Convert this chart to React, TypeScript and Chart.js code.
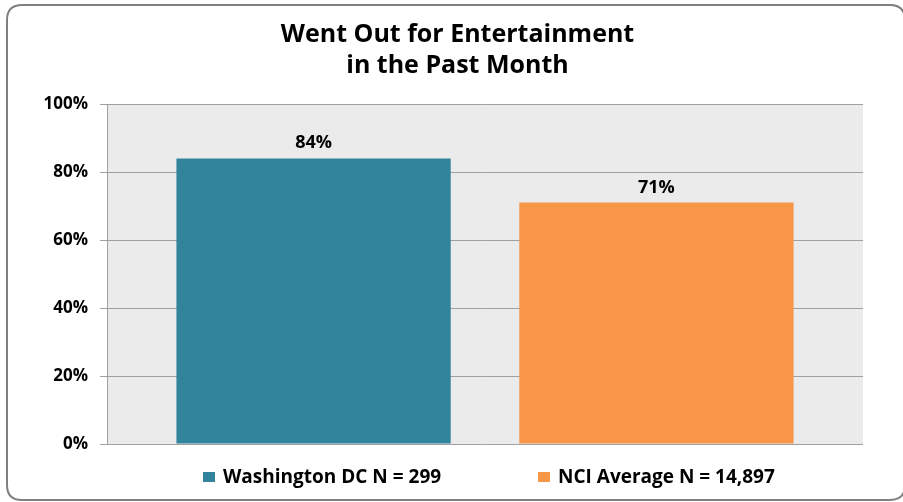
import React, { useEffect, useRef } from "react";
import { Chart, registerables } from "chart.js";

Chart.register(...registerables);

const titleLines = ["Went Out for Entertainment", "in the Past Month"];
const categories = [""];
const seriesNames = ["Washington DC N = 299", "NCI Average N = 14,897"];
const seriesValues = [[84], [71]];
const seriesColors = ["#31849B", "#F79646"];
const yTicks = [0, 20, 40, 60, 80, 100];

const FONT = "'Open Sans', 'DejaVu Sans', sans-serif";
const LEGEND_X = [203, 538];

const decorPlugin = {
  id: "decor",
  beforeDraw(chart: any) {
    const { ctx, chartArea } = chart;
    ctx.save();
    ctx.fillStyle = "#ffffff";
    ctx.fillRect(0, 0, chart.width, chart.height);
    ctx.fillStyle = "#EBEBEB";
    ctx.fillRect(chartArea.left, chartArea.top, chartArea.right - chartArea.left, chartArea.bottom - chartArea.top);
    // rounded border
    const x0 = 7, y0 = 5, x1 = 905, y1 = 500, r = 15;
    ctx.strokeStyle = "#808080";
    ctx.lineWidth = 2;
    ctx.beginPath();
    ctx.moveTo(x0 + r, y0);
    ctx.lineTo(x1 - r, y0);
    ctx.quadraticCurveTo(x1, y0, x1, y0 + r);
    ctx.lineTo(x1, y1 - r);
    ctx.quadraticCurveTo(x1, y1, x1 - r, y1);
    ctx.lineTo(x0 + r, y1);
    ctx.quadraticCurveTo(x0, y1, x0, y1 - r);
    ctx.lineTo(x0, y0 + r);
    ctx.quadraticCurveTo(x0, y0, x0 + r, y0);
    ctx.closePath();
    ctx.stroke();
    ctx.restore();
  },
  afterDraw(chart: any) {
    const { ctx } = chart;
    ctx.save();
    // title
    ctx.fillStyle = "#000000";
    ctx.textAlign = "center";
    ctx.textBaseline = "alphabetic";
    ctx.font = `bold 25px ${FONT}`;
    titleLines.forEach((line, i) => {
      ctx.fillText(line, 457.5, 42 + i * 31);
    });
    // legend
    ctx.font = `bold 19px ${FONT}`;
    const boxW = 12, boxH = 10, gapText = 8;
    const cy = 477;
    ctx.textAlign = "left";
    ctx.textBaseline = "middle";
    chart.data.datasets.forEach((d: any, i: number) => {
      const x = LEGEND_X[i];
      ctx.fillStyle = d.backgroundColor;
      ctx.fillRect(x, cy - boxH / 2, boxW, boxH);
      ctx.fillStyle = "#000000";
      ctx.fillText(d.label, x + boxW + gapText, cy + 1);
    });
    ctx.restore();
  },
  afterDatasetsDraw(chart: any) {
    const { ctx } = chart;
    ctx.save();
    ctx.fillStyle = "#000000";
    ctx.font = `bold 18px ${FONT}`;
    ctx.textAlign = "center";
    ctx.textBaseline = "alphabetic";
    chart.data.datasets.forEach((d: any, di: number) => {
      const meta = chart.getDatasetMeta(di);
      meta.data.forEach((el: any, i: number) => {
        ctx.fillText(d.data[i] + "%", el.x, el.y - 10);
      });
    });
    ctx.restore();
  },
};

export default function App() {
  const ref = useRef<HTMLCanvasElement | null>(null);
  useEffect(() => {
    if (!ref.current) return;
    const chart = new Chart(ref.current, {
      type: "bar",
      data: {
        labels: categories,
        datasets: seriesNames.map((name, i) => ({
          label: name,
          data: seriesValues[i],
          backgroundColor: seriesColors[i],
          borderWidth: 0,
          categoryPercentage: 0.907,
          barPercentage: 0.8,
        })),
      },
      options: {
        responsive: false,
        animation: false,
        layout: { padding: { left: 0, top: 104, right: 40, bottom: 58 } },
        plugins: {
          legend: { display: false },
          title: { display: false },
          tooltip: { enabled: false },
        },
        scales: {
          x: { display: false },
          y: {
            min: 0,
            max: 100,
            afterFit(scale: any) {
              scale.width = 107;
            },
            afterBuildTicks(scale: any) {
              scale.ticks = yTicks.map((v) => ({ value: v }));
            },
            ticks: {
              callback: (v: any) => v + "%",
              color: "#000000",
              padding: 12,
              font: { family: FONT, size: 17, weight: "bold" },
            },
            grid: {
              color: "#A0A0A0",
              lineWidth: 1,
              drawTicks: true,
              tickLength: 7,
              tickColor: "#A0A0A0",
            },
            border: { display: true, color: "#A0A0A0", width: 1 },
          },
        },
      },
      plugins: [decorPlugin],
    });
    return () => chart.destroy();
  }, []);
  return (
    <div style={{ position: "absolute", left: 0, top: 0, width: 903, height: 502 }}>
      <canvas ref={ref} width={903} height={502} />
    </div>
  );
}
